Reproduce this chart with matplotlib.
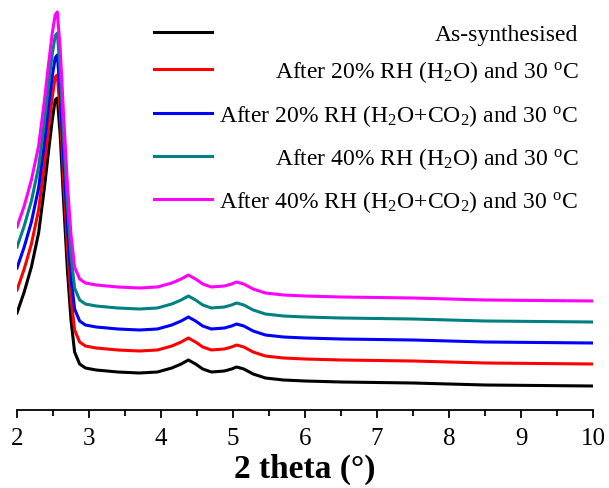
import matplotlib
matplotlib.use("Agg")
import matplotlib.pyplot as plt

plt.rcParams["font.family"] = ["Liberation Serif", "DejaVu Serif"]
plt.rcParams["mathtext.fontset"] = "custom"
plt.rcParams["mathtext.rm"] = "Liberation Serif"
plt.rcParams["mathtext.it"] = "Liberation Serif:italic"
plt.rcParams["mathtext.bf"] = "Liberation Serif:bold"

# 2 theta positions (deg)
two_theta = [2.00, 2.10, 2.20, 2.30, 2.38, 2.44, 2.49, 2.53, 2.56, 2.60,
             2.65, 2.70, 2.75, 2.80, 2.87, 2.95, 3.10, 3.40, 3.70, 3.95,
             4.15, 4.28, 4.38, 4.48, 4.58, 4.70, 4.88, 4.98, 5.05, 5.15,
             5.28, 5.45, 5.70, 6.00, 6.50, 7.50, 8.50, 10.00]

# intensities (a.u., already stacked)
as_synth = [97, 118, 143, 177, 222, 260, 290, 310, 312, 275,
            205, 140, 90, 58, 46, 42, 40, 38, 37, 38,
            42, 46, 50, 46, 41, 38, 39, 41, 43, 41,
            36, 32, 30, 29, 28, 27, 25, 24]
rh20_h2o = [120, 141, 166, 200, 245, 283, 313, 333, 335, 298,
            228, 163, 112, 80, 68, 64, 62, 60, 59, 60,
            64, 68, 72, 68, 63, 60, 61, 63, 65, 63,
            58, 54, 52, 51, 50, 49, 47, 46]
rh20_co2 = [142, 163, 188, 222, 267, 305, 334, 352, 355, 318,
            248, 184, 133, 101, 89, 85, 83, 81, 80, 81,
            85, 89, 93, 89, 84, 81, 82, 84, 86, 84,
            79, 75, 73, 72, 71, 70, 68, 67]
rh40_h2o = [163, 184, 209, 243, 288, 326, 356, 374, 377, 340,
            270, 205, 154, 122, 110, 106, 104, 102, 101, 102,
            106, 110, 114, 110, 105, 102, 103, 105, 107, 105,
            100, 96, 94, 93, 92, 91, 89, 88]
rh40_co2 = [183, 204, 230, 264, 309, 347, 377, 395, 398, 361,
            291, 226, 175, 143, 131, 127, 125, 123, 122, 123,
            127, 131, 135, 131, 126, 123, 124, 126, 128, 126,
            121, 117, 115, 114, 113, 112, 110, 109]

labels = ["As-synthesised",
          r"After 20% RH (H$_2$O) and 30 $^{\mathrm{o}}$C",
          r"After 20% RH (H$_2$O+CO$_2$) and 30 $^{\mathrm{o}}$C",
          r"After 40% RH (H$_2$O) and 30 $^{\mathrm{o}}$C",
          r"After 40% RH (H$_2$O+CO$_2$) and 30 $^{\mathrm{o}}$C"]
colors = ["black", "#ff0000", "#0000ff", "#008080", "#ff00ff"]
series = [as_synth, rh20_h2o, rh20_co2, rh40_h2o, rh40_co2]

fig = plt.figure(figsize=(6.09, 4.88), dpi=100)
ax = fig.add_axes([17 / 609, 78 / 488, 576 / 609, 405 / 488])

for ys, c in zip(series, colors):
    ax.plot(two_theta, ys, color=c, lw=2.2, solid_joinstyle="round")

# legend drawn by hand: handles left, text right-aligned
row_py = [32, 69, 113, 156, 199]
for py, c, lab in zip(row_py, colors, labels):
    yf = (410 - py) / 405
    ax.plot([0.238, 0.339], [yf, yf], color=c, lw=2.2, transform=ax.transAxes,
            clip_on=False)
    ax.text(0.974, (410 - py - 9) / 405, lab, transform=ax.transAxes,
            ha="right", va="baseline", fontsize=17)

ax.set_xlim(2, 10)
ax.set_ylim(0, 405)
ax.set_xticks([2, 3, 4, 5, 6, 7, 8, 9, 10])
ax.set_xticks([2.5, 3.5, 4.5, 5.5, 6.5, 7.5, 8.5, 9.5], minor=True)
ax.set_yticks([])
for s in ["top", "right", "left"]:
    ax.spines[s].set_visible(False)
ax.spines["bottom"].set_linewidth(1.3)
ax.tick_params(axis="x", which="major", direction="out", length=6, width=1.3,
               labelsize=18, pad=7)
ax.tick_params(axis="x", which="minor", direction="out", length=4, width=1.3)
ax.set_xlabel("2 theta (\u00b0)", fontsize=24, fontweight="bold", labelpad=3)

fig.savefig("out.png", dpi=100)
